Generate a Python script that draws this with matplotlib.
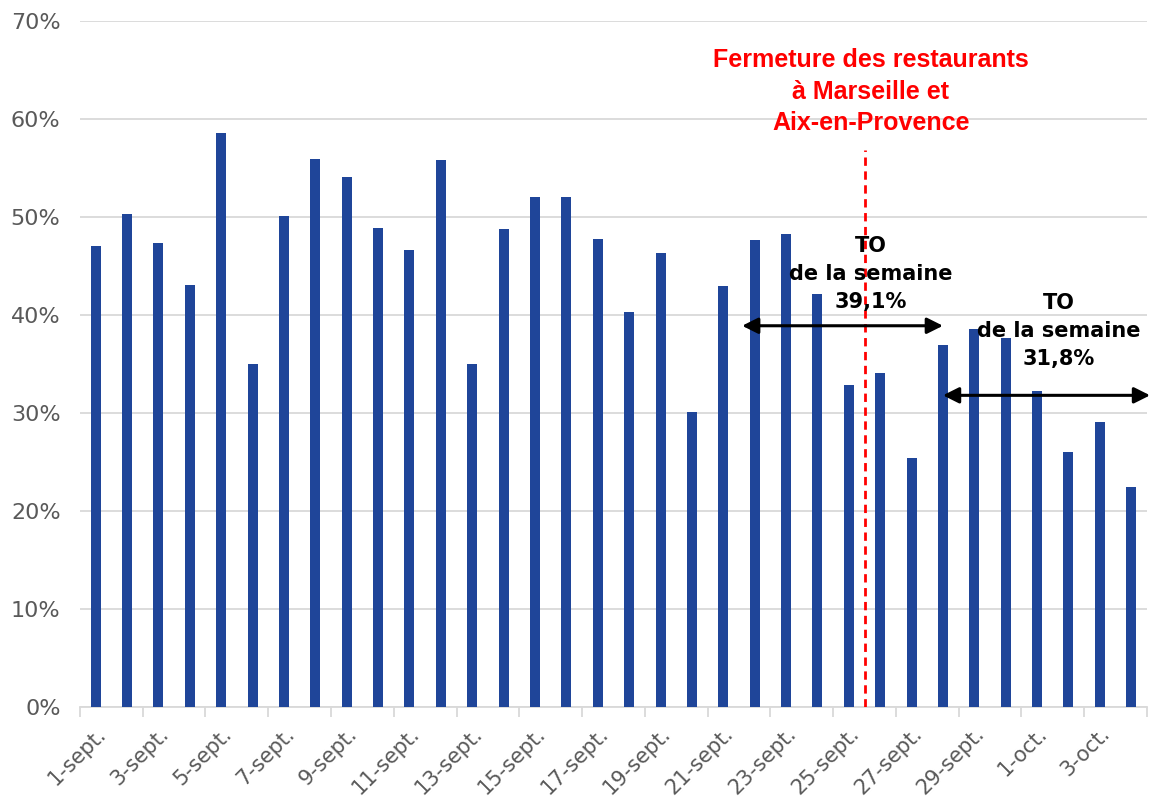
import matplotlib.pyplot as plt
from matplotlib.ticker import FixedLocator, FuncFormatter

# Taux d'occupation journalier (%)
dates = [f"{d}-sept." for d in range(1, 31)] + [f"{d}-oct." for d in range(1, 5)]
occupancy = [47.0, 50.3, 47.3, 43.1, 58.6, 35.0, 50.1, 55.9, 54.1, 48.9,
             46.6, 55.8, 35.0, 48.8, 52.0, 52.0, 47.8, 40.3, 46.3, 30.1,
             43.0, 47.6, 48.3, 42.1, 32.9, 34.1, 25.4, 36.9, 38.6, 37.6,
             32.2, 26.0, 29.1, 22.4]

closure_pos = 24.5          # entre le 25 et le 26 sept.
week_labels = ["TO\nde la semaine\n39,1%", "TO\nde la semaine\n31,8%"]
week_spans = [(20.6, 27.0), (27.0, 33.6)]
week_levels = [38.9, 31.8]
week_text_pos = [(24.7, 44.2), (30.7, 38.4)]

BLUE = "#1f4599"
GRAY = "#595959"

fig = plt.figure(figsize=(11.49, 8.01), dpi=100)
ax = fig.add_axes([0.0696, 0.1174, 0.9286, 0.8564])

x = list(range(len(dates)))
ax.bar(x, occupancy, width=0.32, color=BLUE, zorder=3)

ax.set_xlim(-0.5, len(dates) - 0.5)
ax.set_ylim(0, 70)
ax.set_yticks(range(0, 71, 10))
ax.yaxis.set_major_formatter(FuncFormatter(lambda v, p: f"{int(v)}%"))
ax.grid(axis="y", color="#d9d9d9", linewidth=1.3, zorder=0)
ax.tick_params(axis="y", length=0, labelsize=16, labelcolor=GRAY, pad=14)

# ticks between categories, every 2 days
ax.xaxis.set_major_locator(FixedLocator([i - 0.5 for i in range(0, len(dates) + 1, 2)]))
ax.xaxis.set_major_formatter(FuncFormatter(lambda v, p: ""))
ax.xaxis.set_minor_locator(FixedLocator(x[::2]))
ax.set_xticklabels(dates[::2], minor=True, rotation=45, ha="right",
                   rotation_mode="anchor", fontsize=15, color=GRAY)
ax.tick_params(axis="x", which="major", length=7, color="#d9d9d9", width=1.3)
ax.tick_params(axis="x", which="minor", length=0, pad=12)

for s in ["top", "right", "left"]:
    ax.spines[s].set_visible(False)
ax.spines["bottom"].set_color("#d9d9d9")
ax.spines["bottom"].set_linewidth(1.3)

# fermeture des restaurants
ax.plot([closure_pos, closure_pos], [0, 56.8], color="red", linestyle=(0, (3, 2)),
        linewidth=2, zorder=4)
ax.text(closure_pos + 0.2, 62.8, "Fermeture des restaurants\nà Marseille et\nAix-en-Provence",
        ha="center", va="center", color="red", fontsize=18, fontweight="bold",
        family="Liberation Sans", linespacing=1.4)

for lab, (x0, x1), lvl, (tx, ty) in zip(week_labels, week_spans, week_levels, week_text_pos):
    ax.annotate("", xy=(x0, lvl), xytext=(x1, lvl),
                arrowprops=dict(arrowstyle="<|-|>", color="black", lw=2.2,
                                mutation_scale=24, shrinkA=0, shrinkB=0),
                zorder=5, annotation_clip=False)
    ax.text(tx, ty, lab, ha="center", va="center", fontsize=15, fontweight="bold",
            color="black", linespacing=1.5, zorder=6)

fig.savefig("out.png", dpi=100)
